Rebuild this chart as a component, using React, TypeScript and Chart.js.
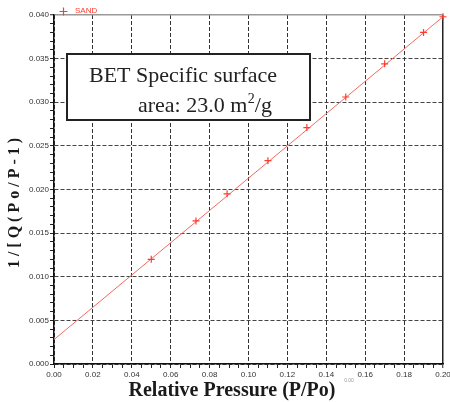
import React, { useEffect, useRef } from "react";
import { Chart, registerables } from "chart.js";

Chart.register(...registerables);

// ---- data ----
const seriesName = "SAND";
const relPressure = [0.05, 0.073, 0.089, 0.11, 0.13, 0.15, 0.17, 0.19, 0.2];
const betValue = [0.012, 0.0164, 0.0195, 0.0233, 0.0271, 0.0306, 0.0344, 0.038, 0.0398];
const fitPressure = [0, 0.2];
const fitValue = [0.0028, 0.0398];

const xMin = 0;
const xMax = 0.2;
const yMin = 0;
const yMax = 0.04;
const xMajorStep = 0.02;
const xMinorStep = 0.005;
const yMajorStep = 0.005;
const yMinorStep = 0.001;

const xTitle = "Relative Pressure (P/Po)";
const yTitle = "1 / [ Q ( P o / P - 1 )";
const noteLine1 = "BET Specific surface";
const noteLine2 = ["area: 23.0 m", "2", "/g"];
const strayLabel = "0.00";

const isMultiple = (v: number, step: number) =>
  Math.abs(v / step - Math.round(v / step)) < 1e-6;

const SERIF = "'Liberation Serif', 'Times New Roman', serif";
const SANS = "'Liberation Sans', Arial, sans-serif";

const overlayPlugin = {
  id: "overlay",
  afterDraw(chart: any) {
    const ctx = chart.ctx as CanvasRenderingContext2D;
    ctx.save();

    // legend
    ctx.strokeStyle = "#ff3b2b";
    ctx.lineWidth = 1.2;
    ctx.beginPath();
    ctx.moveTo(59.5, 11.5);
    ctx.lineTo(67.5, 11.5);
    ctx.moveTo(63.5, 7.5);
    ctx.lineTo(63.5, 15.5);
    ctx.stroke();
    ctx.fillStyle = "#ff3b2b";
    ctx.font = `8px ${SANS}`;
    ctx.textBaseline = "middle";
    ctx.textAlign = "left";
    ctx.fillText(seriesName, 75, 11);

    // annotation box
    ctx.fillStyle = "#ffffff";
    ctx.fillRect(67, 54, 243, 66);
    ctx.strokeStyle = "#222";
    ctx.lineWidth = 2;
    ctx.strokeRect(67, 54, 243, 66);
    ctx.fillStyle = "#222";
    ctx.textBaseline = "alphabetic";
    ctx.font = `22px ${SERIF}`;
    ctx.fillText(noteLine1, 89, 82);
    let x = 138;
    ctx.fillText(noteLine2[0], x, 112);
    x += ctx.measureText(noteLine2[0]).width;
    ctx.font = `14px ${SERIF}`;
    ctx.fillText(noteLine2[1], x + 0.5, 103);
    x += ctx.measureText(noteLine2[1]).width + 0.5;
    ctx.font = `22px ${SERIF}`;
    ctx.fillText(noteLine2[2], x, 112);

    // axis titles
    ctx.fillStyle = "#1a1a1a";
    ctx.textAlign = "center";
    ctx.textBaseline = "middle";
    ctx.font = `bold 20px ${SERIF}`;
    ctx.fillText(xTitle, 232, 391);
    ctx.save();
    ctx.translate(15, 203);
    ctx.rotate(-Math.PI / 2);
    ctx.font = `bold 16px ${SERIF}`;
    ctx.fillText(yTitle, 0, 0);
    ctx.restore();

    // stray small label
    ctx.fillStyle = "#999";
    ctx.font = `5px ${SANS}`;
    ctx.fillText(strayLabel, 349, 381);

    ctx.restore();
  },
};

export default function App() {
  const ref = useRef<HTMLCanvasElement | null>(null);

  useEffect(() => {
    if (!ref.current) return;
    const chart = new Chart(ref.current, {
      type: "scatter",
      data: {
        datasets: [
          {
            label: seriesName,
            data: relPressure.map((p, i) => ({ x: p, y: betValue[i] })),
            pointStyle: "cross",
            pointRadius: 3.5,
            pointBorderWidth: 1.2,
            borderColor: "#ff3b2b",
            backgroundColor: "#ff3b2b",
            showLine: false,
            clip: false,
          } as any,
          {
            label: "fit",
            data: fitPressure.map((p, i) => ({ x: p, y: fitValue[i] })),
            showLine: true,
            pointRadius: 0,
            borderColor: "#f06a62",
            borderWidth: 1,
          } as any,
        ],
      },
      options: {
        responsive: false,
        animation: false,
        devicePixelRatio: 1,
        layout: { padding: { top: 15, right: 7, left: 0, bottom: 0 } },
        plugins: {
          legend: { display: false },
          tooltip: { enabled: false },
        },
        scales: {
          x: {
            type: "linear",
            min: xMin,
            max: xMax,
            afterFit: (s: any) => {
              s.height = 38;
              s.paddingLeft = 0;
              s.paddingRight = 0;
            },
            ticks: {
              stepSize: xMinorStep,
              autoSkip: false,
              minRotation: 0,
              maxRotation: 0,
              padding: 2,
              color: "#333",
              font: { family: SANS, size: 8 },
              callback: (v: any) => (isMultiple(Number(v), xMajorStep) ? Number(v).toFixed(2) : ""),
            },
            grid: {
              color: (c: any) => {
                const v = c.tick ? c.tick.value : 0;
                if (!isMultiple(v, xMajorStep)) return "rgba(0,0,0,0)";
                return Math.abs(v - xMax) < 1e-9 ? "#222" : "#333";
              },
              lineWidth: (c: any) => {
                const v = c.tick ? c.tick.value : 0;
                return Math.abs(v - xMax) < 1e-9 ? 1.5 : 1;
              },
              tickLength: 4,
              tickColor: "#222",
              tickWidth: 1,
            },
            border: {
              color: "#111",
              width: 1.5,
              dash: (c: any) => {
                const v = c.tick ? c.tick.value : 0;
                return Math.abs(v - xMax) < 1e-9 ? [] : [4, 2];
              },
            },
          } as any,
          y: {
            type: "linear",
            min: yMin,
            max: yMax,
            afterFit: (s: any) => {
              s.width = 54;
              s.paddingTop = 0;
              s.paddingBottom = 0;
            },
            ticks: {
              stepSize: yMinorStep,
              autoSkip: false,
              padding: 1,
              color: "#333",
              font: { family: SANS, size: 8 },
              callback: (v: any) => (isMultiple(Number(v), yMajorStep) ? Number(v).toFixed(3) : ""),
            },
            grid: {
              color: (c: any) => {
                const v = c.tick ? c.tick.value : 0;
                if (!isMultiple(v, yMajorStep)) return "rgba(0,0,0,0)";
                return Math.abs(v - yMax) < 1e-9 ? "#9a9a9a" : "#444";
              },
              lineWidth: (c: any) => {
                const v = c.tick ? c.tick.value : 0;
                return Math.abs(v - yMax) < 1e-9 ? 1.5 : 1;
              },
              tickLength: 4,
              tickColor: "#222",
              tickWidth: 1,
            },
            border: {
              color: "#111",
              width: 1.5,
              dash: (c: any) => {
                const v = c.tick ? c.tick.value : 0;
                return Math.abs(v - yMax) < 1e-9 ? [] : [4, 2];
              },
            },
          } as any,
        },
      },
      plugins: [overlayPlugin],
    });
    return () => chart.destroy();
  }, []);

  return (
    <div style={{ position: "fixed", left: 0, top: 0, width: 450, height: 402, background: "#fff" }}>
      <canvas ref={ref} width={450} height={402} style={{ display: "block", width: 450, height: 402 }} />
    </div>
  );
}
